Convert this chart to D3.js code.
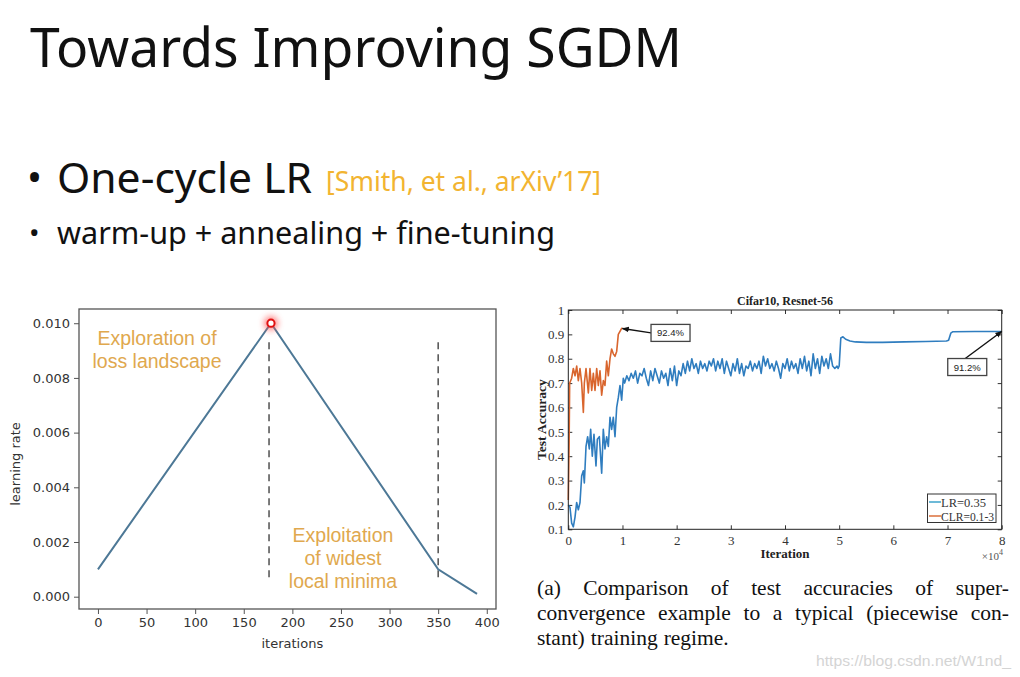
<!DOCTYPE html>
<html><head><meta charset="utf-8">
<script src="https://cdn.jsdelivr.net/npm/d3@7"></script>
<style>body{margin:0;background:#fff;} svg{display:block}</style>
</head><body>
<svg id="c" width="1020" height="677"></svg>
<script>
// ---------------- data ----------------
// left chart: one-cycle learning-rate schedule
const lrIter  = [0, 178, 350, 390];
const lrValue = [0.001, 0.010, 0.001, 0.0001];
const lrPhaseMarks = [176, 350];
const lrPhaseSpan = [0.0006, 0.0093];
const lrXTicks = [0, 50, 100, 150, 200, 250, 300, 350, 400];
const lrYTicks = [0, 0.002, 0.004, 0.006, 0.008, 0.010];

// right chart: test accuracy (iteration, accuracy)
const clrSeries = [[0,0.22],[150,0.45],[250,0.70],[620,0.72],[930,0.76],[1240,0.73],[1550,0.77],[1850,0.71],
  [2160,0.76],[2470,0.70],[2780,0.58],[2960,0.70],[3270,0.76],[3700,0.66],[4000,0.76],[4320,0.67],
  [4620,0.74],[4930,0.67],[5240,0.76],[5540,0.69],[5850,0.75],[6160,0.65],[6470,0.71],[6770,0.69],
  [7080,0.79],[7390,0.73],[7700,0.80],[8000,0.84],[8310,0.82],[8620,0.81],[8930,0.83],[9230,0.90],
  [9850,0.925],[10000,0.924]];
const lrEarly = [[0,0.20],[310,0.19],[620,0.125],[930,0.11],[1240,0.15],[1540,0.21],[1850,0.18],[2160,0.21],
  [2470,0.32],[2770,0.34],[2960,0.29],[3270,0.44],[3570,0.48],[3880,0.43],[4130,0.51],[4430,0.40],
  [4740,0.49],[5110,0.36],[5360,0.47],[5730,0.48],[6160,0.33],[6460,0.51],[6770,0.43],[7080,0.48],
  [7390,0.44],[7700,0.56],[8000,0.51],[8310,0.56],[8620,0.48],[8930,0.60],[9230,0.64],[9540,0.69],
  [9850,0.63],[10150,0.72]];
const lrMidStart = 10400, lrMidStep = 400;
const lrMidAcc = [
  0.70,0.73,0.71,0.74,0.72,0.75,0.70,0.74,0.73,0.76,
  0.72,0.69,0.75,0.71,0.76,0.73,0.70,0.75,0.72,0.74,
  0.69,0.76,0.71,0.77,0.69,0.75,0.73,0.78,0.74,0.79,
  0.75,0.80,0.76,0.78,0.74,0.79,0.76,0.78,0.75,0.79,
  0.77,0.80,0.75,0.79,0.76,0.80,0.74,0.79,0.76,0.73,
  0.78,0.75,0.80,0.74,0.78,0.73,0.77,0.76,0.79,0.75,
  0.78,0.76,0.79,0.74,0.81,0.77,0.80,0.76,0.78,0.75,
  0.79,0.76,0.72,0.78,0.76,0.80,0.75,0.79,0.76,0.78,
  0.74,0.80,0.76,0.81,0.75,0.79,0.73,0.82,0.76,0.80,
  0.74,0.81,0.77,0.80,0.76,0.82,0.77,0.76,0.77];
const lrLate = [[49800,0.76],[50000,0.77],[50300,0.885],[50700,0.89],[51200,0.88],[52000,0.873],[53000,0.869],
  [55000,0.867],[58000,0.867],[62000,0.869],[66000,0.871],[69800,0.873],[70200,0.876],[70600,0.905],
  [71000,0.911],[75000,0.912],[80000,0.912]];
const accXTicks = [0,1,2,3,4,5,6,7,8];          // ×10^4
const accYTicks = [0.1,0.2,0.3,0.4,0.5,0.6,0.7,0.8,0.9,1];
const accLegend = ["LR=0.35", "CLR=0.1-3"];
const accNotes = [
  {label:"92.4%", at:[10000,0.924], box:[18870,0.906], from:"left"},
  {label:"91.2%", at:[80000,0.912], box:[73640,0.766], from:"top"}];

const captionLines = ["(a) Comparison of test accuracies of super-",
  "convergence example to a typical (piecewise con-",
  "stant) training regime."];

// ---------------- drawing ----------------
const svg = d3.select("#c");
svg.append("rect").attr("width",1020).attr("height",677).attr("fill","#fff");
const defs = svg.append("defs");
defs.append("filter").attr("id","glow").attr("x","-2").attr("y","-2").attr("width","5").attr("height","5")
  .append("feGaussianBlur").attr("stdDeviation",3);
defs.append("marker").attr("id","ah").attr("viewBox","0 0 10 10").attr("refX",9).attr("refY",5)
  .attr("markerWidth",5).attr("markerHeight",5).attr("orient","auto-start-reverse")
  .append("path").attr("d","M0,1 L10,5 L0,9 z").attr("fill","#111");

// slide text
const sans = "'Noto Sans','Open Sans',sans-serif";
svg.append("text").attr("x",30).attr("y",67).attr("font-family",sans).attr("font-size",54)
  .attr("textLength",652).attr("lengthAdjust","spacingAndGlyphs").attr("fill","#111").text("Towards Improving SGDM");
svg.append("text").attr("x",27).attr("y",192).attr("font-family",sans).attr("font-size",40).attr("fill","#111").text("•");
svg.append("text").attr("x",57).attr("y",193).attr("font-family",sans).attr("font-size",42)
  .attr("textLength",255).attr("lengthAdjust","spacingAndGlyphs").attr("fill","#111").text("One-cycle LR");
svg.append("text").attr("x",326).attr("y",191).attr("font-family",sans).attr("font-size",27)
  .attr("textLength",275).attr("lengthAdjust","spacingAndGlyphs").attr("fill","#f2b431").text("[Smith, et al., arXiv’17]");
svg.append("text").attr("x",29).attr("y",243).attr("font-family",sans).attr("font-size",28).attr("fill","#111").text("•");
svg.append("text").attr("x",57).attr("y",244).attr("font-family",sans).attr("font-size",30)
  .attr("textLength",498).attr("lengthAdjust","spacingAndGlyphs").attr("fill","#111").text("warm-up + annealing + fine-tuning");

// ---- left chart ----
const L = {x0:79, x1:496, y0:309, y1:609};
const lx = d3.scaleLinear().domain([-19.5, 409.5]).range([L.x0, L.x1]);
const ly = d3.scaleLinear().domain([-0.00045, 0.01052]).range([L.y1, L.y0]);
const gL = svg.append("g");
const dv = "'DejaVu Sans',sans-serif";
const xa = gL.append("g").attr("transform",`translate(0,${L.y1})`)
  .call(d3.axisBottom(lx).tickValues(lrXTicks).tickSize(5).tickPadding(4).tickFormat(d3.format("d")));
const ya = gL.append("g").attr("transform",`translate(${L.x0},0)`)
  .call(d3.axisLeft(ly).tickValues(lrYTicks).tickSize(5).tickPadding(4).tickFormat(d3.format(".3f")));
[xa,ya].forEach(a=>{a.select(".domain").remove();
  a.selectAll("line").attr("stroke","#555");
  a.selectAll("text").attr("font-family",dv).attr("font-size",13).attr("fill","#333");});
gL.append("rect").attr("x",L.x0).attr("y",L.y0).attr("width",L.x1-L.x0).attr("height",L.y1-L.y0)
  .attr("fill","none").attr("stroke","#555").attr("stroke-width",1.3);
gL.append("text").attr("x",lx(200)).attr("y",648).attr("text-anchor","middle").attr("font-family",dv)
  .attr("font-size",13).attr("fill","#333").text("iterations");
gL.append("text").attr("transform",`translate(20,${ly(0.005)+4}) rotate(-90)`).attr("text-anchor","middle")
  .attr("font-family",dv).attr("font-size",13).attr("fill","#333").text("learning rate");
gL.selectAll(".ph").data(lrPhaseMarks).enter().append("line")
  .attr("x1",d=>lx(d)).attr("x2",d=>lx(d)).attr("y1",ly(lrPhaseSpan[1])).attr("y2",ly(lrPhaseSpan[0]))
  .attr("stroke","#444").attr("stroke-width",1.4).attr("stroke-dasharray","7,5");
gL.append("path").datum(lrIter.map((d,i)=>[d,lrValue[i]]))
  .attr("d",d3.line().x(d=>lx(d[0])).y(d=>ly(d[1])))
  .attr("fill","none").attr("stroke","#4d7896").attr("stroke-width",2);
const peak = [lrIter[1], lrValue[1]];
gL.append("circle").attr("cx",lx(peak[0])).attr("cy",ly(peak[1])).attr("r",7).attr("fill","#ff5050")
  .attr("opacity",0.7).attr("filter","url(#glow)");
gL.append("circle").attr("cx",lx(peak[0])).attr("cy",ly(peak[1])).attr("r",3.6).attr("fill","#fff")
  .attr("stroke","#e01010").attr("stroke-width",2);
const noteC = "#e0a84e", arial = "'Liberation Sans',Arial,sans-serif";
[["Exploration of",345],["loss landscape",368]].forEach(t=>gL.append("text").attr("x",157).attr("y",t[1])
  .attr("text-anchor","middle").attr("font-family",arial).attr("font-size",19.5).attr("fill",noteC).text(t[0]));
[["Exploitation",542],["of widest",565],["local minima",588]].forEach(t=>gL.append("text").attr("x",343).attr("y",t[1])
  .attr("text-anchor","middle").attr("font-family",arial).attr("font-size",19.5).attr("fill",noteC).text(t[0]));

// ---- right chart ----
const R = {x0:568.3, x1:1001.7, y0:310, y1:529.3};
const rx = d3.scaleLinear().domain([0, 80000]).range([R.x0, R.x1]);
const ry = d3.scaleLinear().domain([0.1, 1]).range([R.y1, R.y0]);
const gR = svg.append("g");
const serif = "'Liberation Serif','Times New Roman',serif";
const tk = 4;
const axB = gR.append("g").attr("transform",`translate(0,${R.y1})`)
  .call(d3.axisBottom(rx).tickValues(accXTicks.map(d=>d*1e4)).tickSizeInner(-tk).tickSizeOuter(0).tickPadding(6).tickFormat(d=>d/1e4));
const axT = gR.append("g").attr("transform",`translate(0,${R.y0})`)
  .call(d3.axisTop(rx).tickValues(accXTicks.map(d=>d*1e4)).tickSizeInner(-tk).tickSizeOuter(0).tickFormat(""));
const axLf = gR.append("g").attr("transform",`translate(${R.x0},0)`)
  .call(d3.axisLeft(ry).tickValues(accYTicks).tickSizeInner(-tk).tickSizeOuter(0).tickPadding(4).tickFormat(d=>d===1?"1":d3.format(".1f")(d)));
const axRt = gR.append("g").attr("transform",`translate(${R.x1},0)`)
  .call(d3.axisRight(ry).tickValues(accYTicks).tickSizeInner(-tk).tickSizeOuter(0).tickFormat(""));
[axB,axT,axLf,axRt].forEach(a=>{a.select(".domain").remove();
  a.selectAll("line").attr("stroke","#333");
  a.selectAll("text").attr("font-family",serif).attr("font-size",13).attr("fill","#333");});

const lrSeries = lrEarly.concat(lrMidAcc.map((v,i)=>[lrMidStart+i*lrMidStep, v]), lrLate);
const line = d3.line().x(d=>rx(d[0])).y(d=>ry(d[1]));
gR.append("path").datum(lrSeries).attr("d",line).attr("fill","none").attr("stroke","#2f7dbf")
  .attr("stroke-width",1.6).attr("stroke-linejoin","round");
gR.append("path").datum(clrSeries).attr("d",line).attr("fill","none").attr("stroke","#d9652d")
  .attr("stroke-width",1.6).attr("stroke-linejoin","round");
gR.append("rect").attr("x",R.x0).attr("y",R.y0).attr("width",R.x1-R.x0).attr("height",R.y1-R.y0)
  .attr("fill","none").attr("stroke","#222").attr("stroke-width",1);

// annotations
accNotes.forEach(n=>{
  const cx = rx(n.box[0]), cy = ry(n.box[1]), w = 39, h = 17;
  const sx = n.from==="left" ? cx - w/2 : cx - 2, sy = n.from==="left" ? cy : cy - h/2;
  gR.append("line").attr("x1",sx).attr("y1",sy).attr("x2",rx(n.at[0])).attr("y2",ry(n.at[1]))
    .attr("stroke","#111").attr("stroke-width",1.4).attr("marker-end","url(#ah)");
  gR.append("rect").attr("x",cx-w/2).attr("y",cy-h/2).attr("width",w).attr("height",h)
    .attr("fill","#fff").attr("stroke","#444").attr("stroke-width",1.3);
  gR.append("text").attr("x",cx).attr("y",cy+3.5).attr("text-anchor","middle").attr("font-family",arial)
    .attr("font-size",9.5).attr("fill","#222").text(n.label);
});

// legend
gR.append("rect").attr("x",927.5).attr("y",494).attr("width",68.5).attr("height",28.5)
  .attr("fill","#fff").attr("stroke","#333").attr("stroke-width",1);
[["#2f9dc8",502],["#d9652d",516]].forEach((c,i)=>{
  gR.append("line").attr("x1",929).attr("x2",941).attr("y1",c[1]).attr("y2",c[1]).attr("stroke",c[0]).attr("stroke-width",1.4);
  gR.append("text").attr("x",941).attr("y",c[1]+4.5).attr("font-family",serif).attr("font-size",13)
    .attr("textLength",i===0?45:53).attr("lengthAdjust","spacingAndGlyphs")
    .attr("fill","#333").text(accLegend[i]);
});

gR.append("text").attr("x",785).attr("y",305).attr("text-anchor","middle").attr("font-family",serif)
  .attr("font-weight","bold").attr("font-size",12).attr("fill","#222").text("Cifar10, Resnet-56");
gR.append("text").attr("x",785).attr("y",558).attr("text-anchor","middle").attr("font-family",serif)
  .attr("font-weight","bold").attr("font-size",13).attr("fill","#222").text("Iteration");
gR.append("text").attr("transform",`translate(546,${ry(0.55)}) rotate(-90)`).attr("text-anchor","middle")
  .attr("font-family",serif).attr("font-weight","bold").attr("font-size",13.5).attr("fill","#222").text("Test Accuracy");
const xp = gR.append("text").attr("x",1003).attr("y",560).attr("text-anchor","end").attr("font-family",serif)
  .attr("font-size",11).attr("fill","#555");
xp.append("tspan").text("×10");
xp.append("tspan").attr("dy",-5).attr("font-size",8).text("4");

// caption (justified)
const capX0 = 537, capX1 = 1009, capY = [595, 620, 645];
captionLines.forEach((ln,li)=>{
  const words = ln.split(" ");
  const g = svg.append("g");
  const ts = words.map(w=>g.append("text").attr("y",capY[li]).attr("font-family",serif).attr("font-size",21.5)
    .attr("fill","#111").text(w));
  const widths = ts.map(t=>t.node().getComputedTextLength());
  const total = d3.sum(widths);
  const gap = li < 2 ? (capX1-capX0-total)/(words.length-1) : 6;
  let x = capX0;
  ts.forEach((t,i)=>{t.attr("x",x); x += widths[i]+gap;});
});

svg.append("text").attr("x",816).attr("y",666).attr("font-family",arial).attr("font-size",14)
  .attr("textLength",195).attr("lengthAdjust","spacingAndGlyphs").attr("fill","#d4d4d4").text("https://blog.csdn.net/W1nd_");
</script>
</body></html>
